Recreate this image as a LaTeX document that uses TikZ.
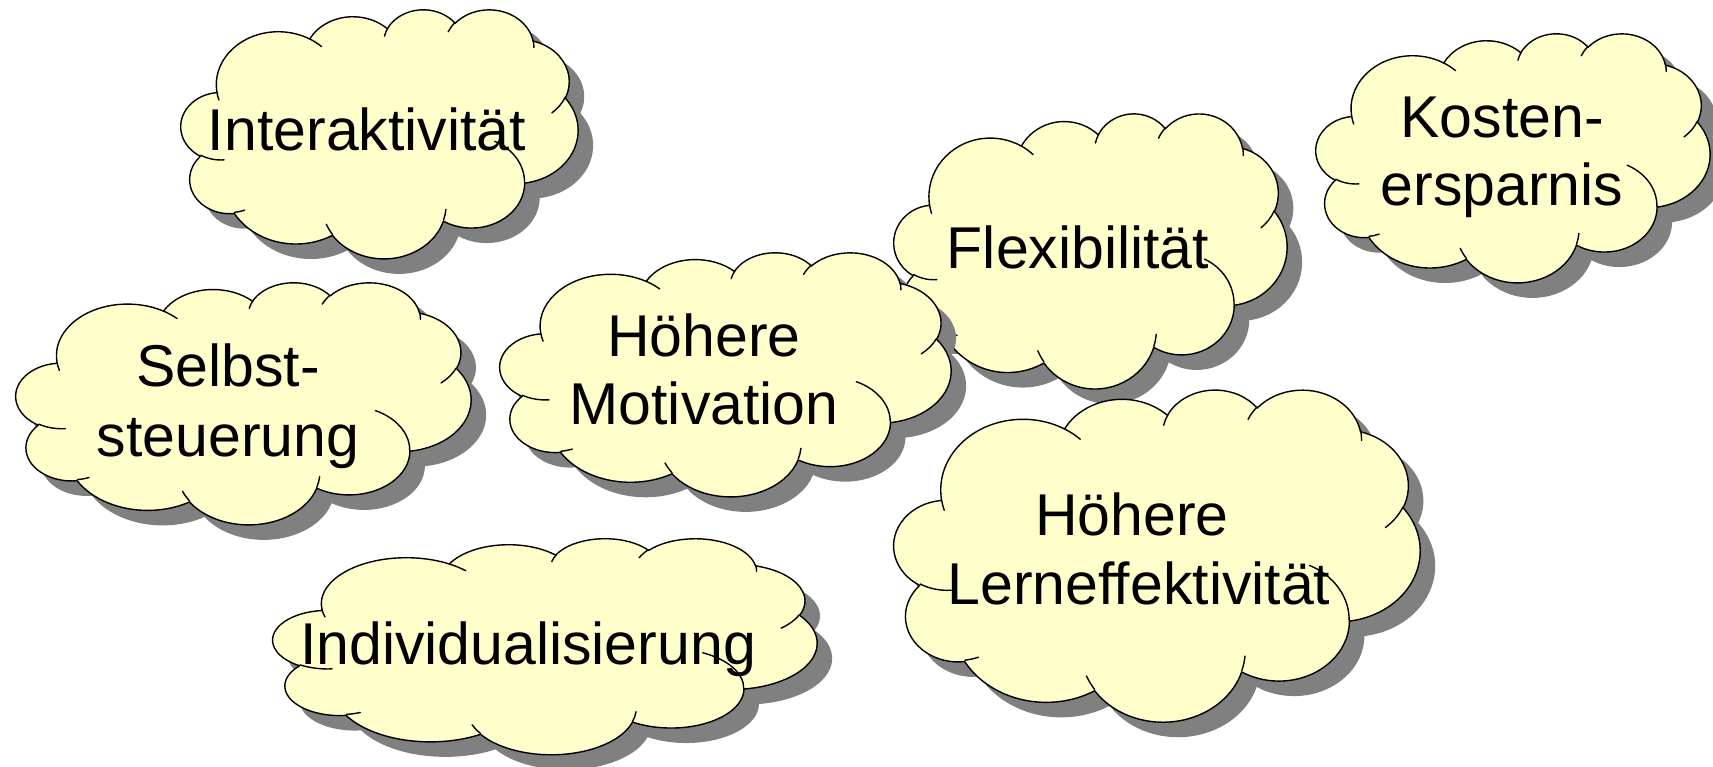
\documentclass[tikz,border=0pt]{standalone}
\usepackage{fontspec}
\setmainfont{Liberation Sans}
\definecolor{cloudyellow}{HTML}{FFFFCC}
\definecolor{shadowgray}{HTML}{808080}
\tikzset{
  cloudshadow/.style={fill=shadowgray, draw=none},
  cloudbody/.style={fill=cloudyellow, draw=black, line width=1.4pt, line join=round},
  cloudinner/.style={draw=black, line width=1.4pt, line cap=round},
  lbl/.style={font=\fontsize{59}{68}\selectfont, inner sep=0pt, anchor=base, text=black},
}
% PowerPoint cloud outline in a 432 x 432 box (y downwards)
\newcommand\cloudoutline{(39.00,143.70)
  arc[start angle=-187.75, delta angle=128.11, x radius=67.53pt, y radius=91.90pt]
  arc[start angle=-152.02, delta angle=106.56, x radius=53.33pt, y radius=72.67pt]
  arc[start angle=-153.49, delta angle=116.17, x radius=43.65pt, y radius=59.45pt]
  arc[start angle=-139.70, delta angle=129.49, x radius=48.57pt, y radius=65.95pt]
  arc[start angle=-74.77, delta angle=97.98, x radius=53.33pt, y radius=72.73pt]
  arc[start angle=-37.52, delta angle=119.38, x radius=67.75pt, y radius=92.20pt]
  arc[start angle=0.46, delta angle=121.52, x radius=57.85pt, y radius=78.67pt]
  arc[start angle=16.84, delta angle=129.37, x radius=67.52pt, y radius=92.15pt]
  arc[start angle=58.99, delta angle=91.18, x radius=77.20pt, y radius=105.43pt]
  arc[start angle=-276.69, delta angle=139.80, x radius=43.60pt, y radius=59.18pt]
  arc[start angle=-239.65, delta angle=143.76, x radius=43.45pt, y radius=59.45pt]
  -- cycle}
\newcommand\cloudinnerarcs{
  (46.93,261.77) arc[start angle=85.55, end angle=120.35, x radius=43.45pt, y radius=59.45pt]
  (69.28,348.99) arc[start angle=68.23, end angle=83.31, x radius=43.60pt, y radius=59.18pt]
  (164.78,390.90) arc[start angle=146.21, end angle=158.47, x radius=67.52pt, y radius=92.15pt]
  (288.27,347.51) arc[start angle=4.74, end angle=16.84, x radius=67.52pt, y radius=92.15pt]
  (341.29,229.54) arc[start angle=-64.03, end angle=0.46, x radius=57.85pt, y radius=78.67pt]
  (417.98,153.54) arc[start angle=23.21, end angle=49.63, x radius=53.33pt, y radius=72.73pt]
  (383.24,54.26) arc[start angle=-10.21, end angle=0.82, x radius=48.57pt, y radius=65.95pt]
  (290.78,39.52) arc[start angle=-156.29, end angle=-139.70, x radius=48.57pt, y radius=65.95pt]
  (221.41,47.20) arc[start angle=-167.72, end angle=-153.49, x radius=43.65pt, y radius=59.45pt]
  (140.00,51.92) arc[start angle=-59.64, end angle=-45.74, x radius=67.53pt, y radius=91.90pt]
  (41.27,157.89) arc[start angle=163.20, end angle=172.26, x radius=67.53pt, y radius=91.90pt]}
% #1,#2 top-left corner, #3 width, #4 height (pixels, y downwards)
\newcommand\mycloud[4]{%
  \begin{scope}[shift={(#1+15,#2+15)}, xscale=#3/432, yscale=#4/432]
    \path[cloudshadow] \cloudoutline;
  \end{scope}
  \begin{scope}[shift={(#1,#2)}, xscale=#3/432, yscale=#4/432]
    \path[cloudbody] \cloudoutline;
    \path[cloudinner] \cloudinnerarcs;
  \end{scope}}
\begin{document}
\begin{tikzpicture}[x=1pt,y=1pt]
\begin{scope}[yscale=-1]
  \useasboundingbox[fill=white] (0,0) rectangle (1713,767);
  % Flexibilitaet
  \mycloud{894}{113}{393}{275}
  \node[lbl] (flex) at (1078,269) {Flexibilität};
  % Kostenersparnis
  \mycloud{1316}{33}{394}{249}
  \node[lbl] (kosten1) at (1502,138) {Kosten-};
  \node[lbl] (kosten2) at (1502,206) {ersparnis};
  % Interaktivitaet
  \mycloud{181}{9}{397}{249}
  \node[lbl] (inter) at (367,151) {Interaktivität};
  % Selbststeuerung
  \mycloud{16}{282}{455}{242}
  \node[lbl] (selbst1) at (228,386) {Selbst-};
  \node[lbl] (selbst2) at (228,456) {steuerung};
  % Hoehere Motivation
  \mycloud{500}{252}{451}{244}
  \node[lbl] (motiv1) at (704,356) {Höhere};
  \node[lbl] (motiv2) at (704,424) {Motivation};
  % Hoehere Lerneffektivitaet
  \mycloud{894}{389}{526}{332}
  \node[lbl] (lern1) at (1132,535) {Höhere};
  \node[lbl] (lern2) at (1139,604) {Lerneffektivität};
  % Individualisierung
  \mycloud{273}{538}{544}{216}
  \node[lbl] (indiv) at (528,664) {Individualisierung};
\end{scope}
\end{tikzpicture}
\end{document}
